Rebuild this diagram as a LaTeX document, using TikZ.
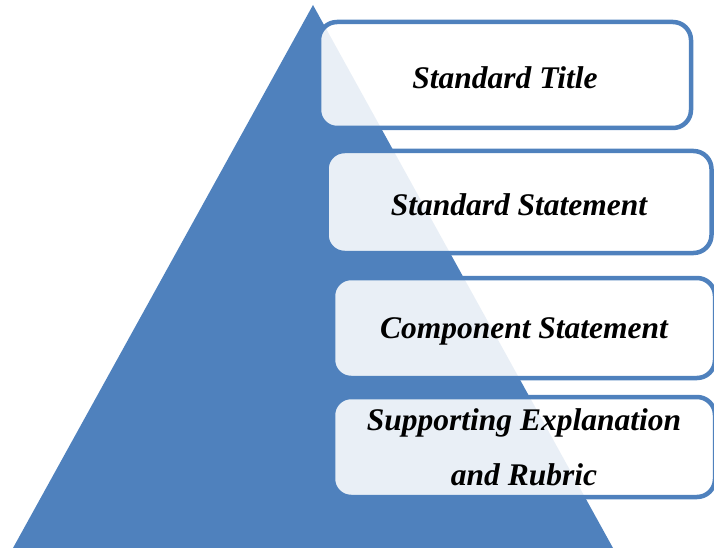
\documentclass[tikz,border=0pt]{standalone}
\usepackage{fontspec}
\setmainfont{Liberation Serif}
\usepackage{tikz}

\definecolor{pyrblue}{RGB}{79,129,189}

\begin{document}
\begin{tikzpicture}[x=1pt, y=-1pt,
	level/.style={draw=pyrblue, line width=4.5pt, rounded corners=18pt,
		fill=white, fill opacity=0.88, text opacity=1, inner sep=0pt,
		align=center, font=\fontsize{31.5}{55}\selectfont\bfseries\itshape},
	oneline/.style={text height=28pt}]
	
	\useasboundingbox (0,0) rectangle (714,548);
	
	% the pyramid behind the boxes
	\fill[pyrblue] (313,5) -- (613,548) -- (13,548) -- cycle;
	
	\node[level, oneline, minimum width=372pt, minimum height=106pt] (title)     at (505,75)  {Standard Title};
	\node[level, oneline, minimum width=385pt, minimum height=102pt] (statement) at (519,202) {Standard Statement};
	\node[level, oneline, minimum width=382pt, minimum height=100pt] (component) at (524,328) {Component Statement};
	\node[level, minimum width=382pt, minimum height=100pt] (support)   at (524,447) {Supporting Explanation\\and Rubric};
	
\end{tikzpicture}
\end{document}
